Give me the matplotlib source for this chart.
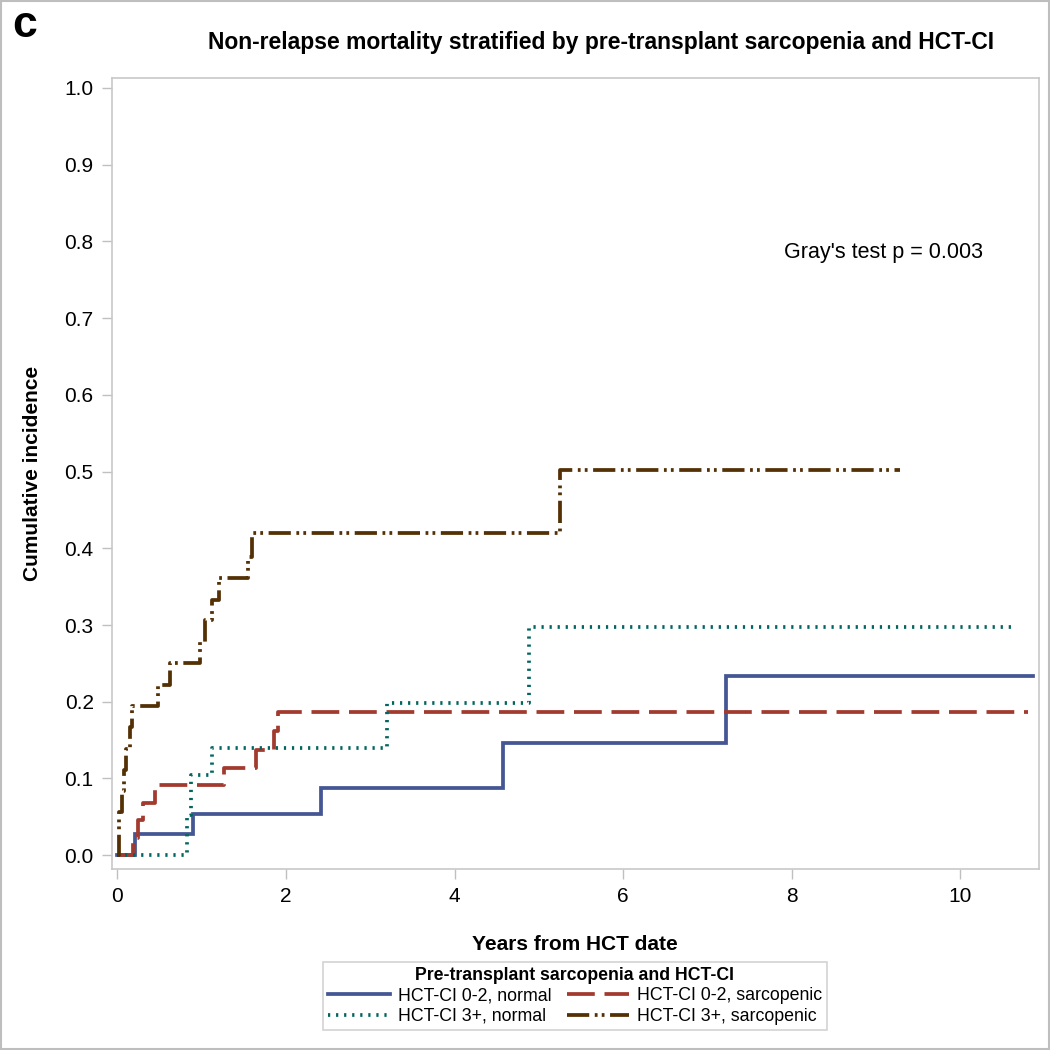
import matplotlib
matplotlib.use("Agg")
import matplotlib.pyplot as plt
from matplotlib.patches import Rectangle

plt.rcParams['font.family'] = ['Liberation Sans', 'DejaVu Sans']
plt.rcParams['lines.scale_dashes'] = False

# ---- data ----
labels = ["HCT-CI 0-2, normal", "HCT-CI 0-2, sarcopenic",
          "HCT-CI 3+, normal", "HCT-CI 3+, sarcopenic"]

t_blue = [0.0, 0.21, 0.90, 2.42, 4.57, 7.22, 10.86]
v_blue = [0.0, 0.027, 0.054, 0.088, 0.146, 0.233, 0.233]

t_red = [0.0, 0.18, 0.24, 0.30, 0.45, 1.26, 1.64, 1.86, 1.91, 10.80]
v_red = [0.0, 0.023, 0.046, 0.068, 0.091, 0.114, 0.137, 0.162, 0.187, 0.187]

t_green = [0.0, 0.83, 0.87, 1.12, 3.20, 4.88, 10.65]
v_green = [0.0, 0.052, 0.104, 0.140, 0.199, 0.298, 0.298]

t_brown = [0.0, 0.02, 0.06, 0.08, 0.10, 0.15, 0.17, 0.48, 0.62, 0.98, 1.04,
           1.12, 1.20, 1.55, 1.60, 5.25, 9.28]
v_brown = [0.0, 0.056, 0.083, 0.111, 0.139, 0.167, 0.194, 0.222, 0.250, 0.278,
           0.306, 0.333, 0.361, 0.389, 0.420, 0.502, 0.502]

x_ticks = [0, 2, 4, 6, 8, 10]
y_ticks = [0.0, 0.1, 0.2, 0.3, 0.4, 0.5, 0.6, 0.7, 0.8, 0.9, 1.0]

colors = ['#445694', '#A23A2E', '#01665E', '#543005']
styles = ['-', (0, (20, 7)), (0, (1.6, 4.2)), (0, (16, 4, 2, 3, 2, 4))]

fig = plt.figure(figsize=(10.5, 10.5), dpi=100)
fig.patches.append(Rectangle((0.0005, 0.0005), 0.999, 0.999, transform=fig.transFigure,
                             fill=False, edgecolor='#BEBEBE', linewidth=1.5))
ax = fig.add_axes([0.1064, 0.1724, 0.8829, 0.7533])

series = [(t_blue, v_blue), (t_red, v_red), (t_green, v_green), (t_brown, v_brown)]
handles = []
for (t, v), c, ls, lab in zip(series, colors, styles, labels):
    h, = ax.step(t, v, where='post', color=c, linestyle=ls, linewidth=2.7,
                 label=lab, solid_joinstyle='miter', dash_capstyle='butt')
    handles.append(h)

ax.set_xlim(-0.067, 10.93)
ax.set_ylim(-0.018, 1.013)
ax.set_xticks(x_ticks)
ax.set_yticks(y_ticks)
ax.set_xticklabels([str(x) for x in x_ticks])
ax.set_yticklabels([f"{y:.1f}" for y in y_ticks])
ax.tick_params(axis='both', direction='out', length=7, width=1, color='#C0C0C0',
               labelsize=15, pad=6)
for s in ax.spines.values():
    s.set_color('#C8C8C8')
    s.set_linewidth(1.2)

ax.set_xlabel("Years from HCT date", fontsize=15, fontweight='bold', labelpad=21)
ax.set_ylabel("Cumulative incidence", fontsize=15, fontweight='bold', labelpad=16)

ax.text(0.7247, 0.7788, "Gray's test p = 0.003", transform=ax.transAxes,
        fontsize=15.5, ha='left', va='center')

fig.text(0.572, 0.960, "Non-relapse mortality stratified by pre-transplant sarcopenia and HCT-CI",
         fontsize=16.5, fontweight='bold', ha='center', va='center')
fig.text(0.012, 0.976, "c", fontsize=32, fontweight='bold', ha='left', va='center')

order = [0, 2, 1, 3]
leg = fig.legend([handles[i] for i in order], [labels[i] for i in order],
                 loc='center', bbox_to_anchor=(0.5476, 0.0515), ncol=2,
                 title="Pre-transplant sarcopenia and HCT-CI",
                 title_fontproperties={'weight': 'bold', 'size': 12.7},
                 fontsize=12.8, frameon=True, fancybox=False, handlelength=3.5,
                 handletextpad=0.43, columnspacing=0.85, labelspacing=0.2,
                 borderpad=0.3, borderaxespad=0)
leg.get_frame().set_edgecolor('#C8C8C8')
leg.get_frame().set_linewidth(1.2)

fig.savefig("out.png", dpi=100)
